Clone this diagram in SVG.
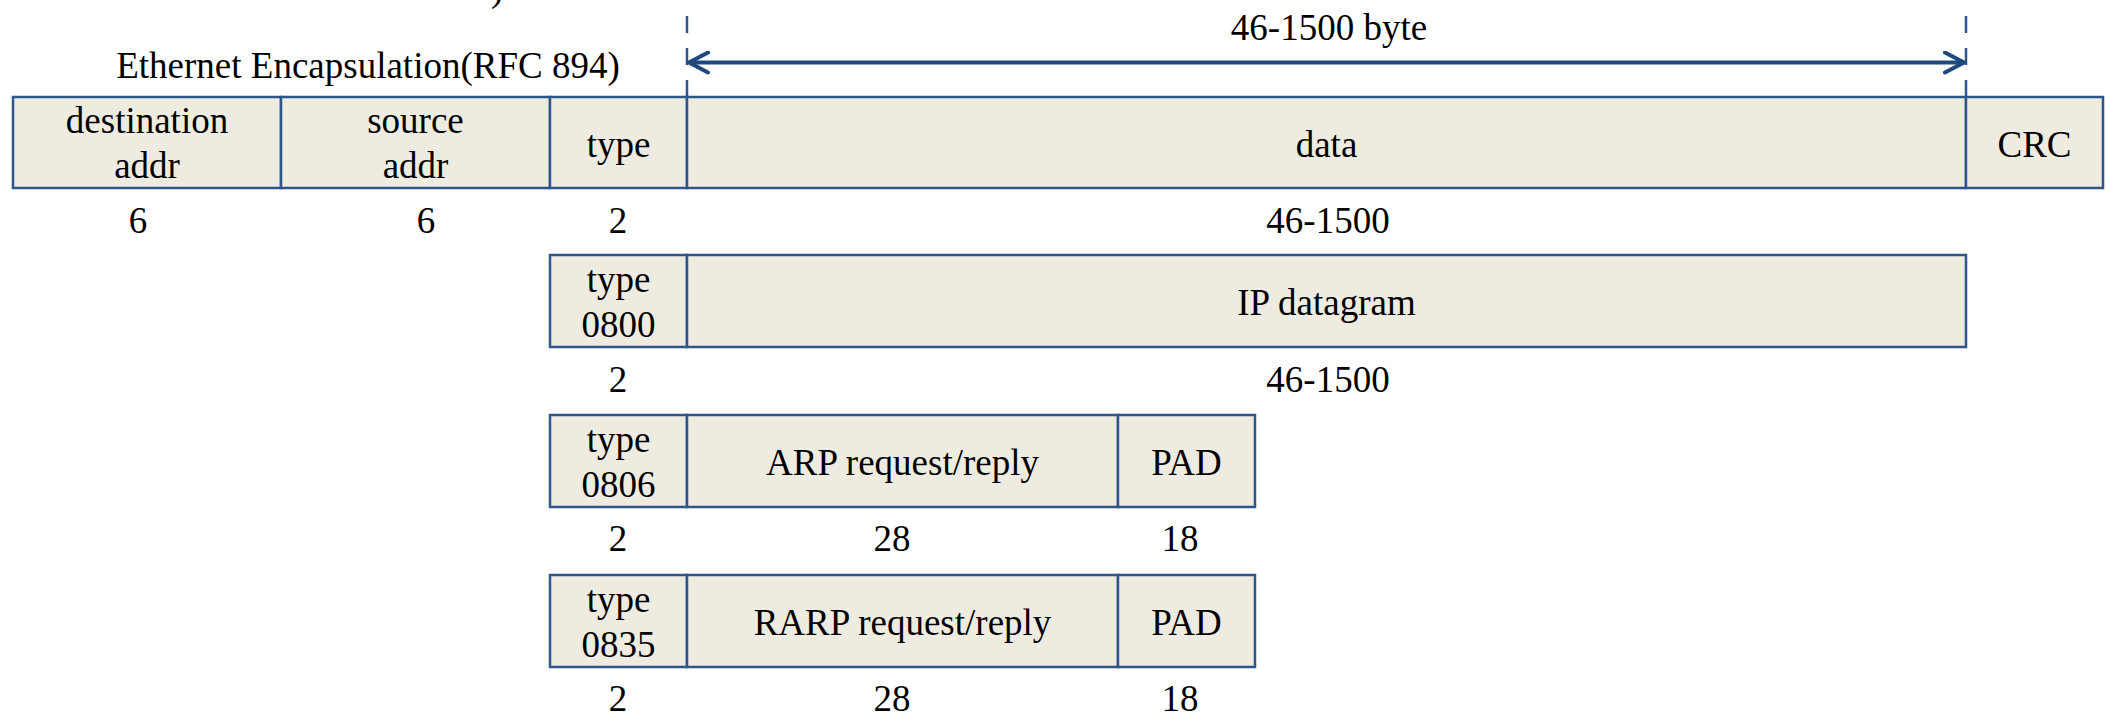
<svg xmlns="http://www.w3.org/2000/svg" width="2107" height="713" viewBox="0 0 2107 713">
<defs>
<style>
.box{fill:#EEECE1;stroke:#2F5689;stroke-width:2.5}
.t{font-family:"Liberation Serif","Times New Roman",serif;font-size:37px;fill:#000;text-anchor:middle}
.dash{stroke:#2F5689;stroke-width:2.5;stroke-dasharray:17 15;fill:none}
.arrow{stroke:#1F497D;stroke-width:4;fill:none}
</style>
<marker id="chev" viewBox="0 0 24 24" refX="22" refY="12" markerWidth="24" markerHeight="24" markerUnits="userSpaceOnUse" orient="auto-start-reverse">
<path d="M3,2 L22,12 L3,22" fill="none" stroke="#1F497D" stroke-width="4" stroke-linecap="round" stroke-linejoin="round"/>
</marker>
</defs>
<rect width="2107" height="713" fill="#fff"/>
<text class="t" x="491" y="1" text-anchor="start" style="text-anchor:start">)</text>
<text class="t" x="368" y="78">Ethernet Encapsulation(RFC 894)</text>
<text class="t" x="1329" y="40">46-1500 byte</text>

<g id="connectors">
<line class="dash" x1="687" y1="16" x2="687" y2="97"/>
<line class="dash" x1="1966" y1="16" x2="1966" y2="97"/>
<line class="arrow" x1="689" y1="62.5" x2="1964" y2="62.5" marker-start="url(#chev)" marker-end="url(#chev)"/>
</g>

<g id="eth-dest"><rect class="box" x="13" y="97" width="268" height="91"/><text class="t" x="147" y="133">destination</text><text class="t" x="147" y="178">addr</text><text class="t" x="138" y="233">6</text></g>
<g id="eth-src"><rect class="box" x="281" y="97" width="269" height="91"/><text class="t" x="415.5" y="133">source</text><text class="t" x="415.5" y="178">addr</text><text class="t" x="426" y="233">6</text></g>
<g id="eth-type"><rect class="box" x="550" y="97" width="137" height="91"/><text class="t" x="618.5" y="157">type</text><text class="t" x="618" y="233">2</text></g>
<g id="eth-data"><rect class="box" x="687" y="97" width="1279" height="91"/><text class="t" x="1326.5" y="157">data</text><text class="t" x="1328" y="233">46-1500</text></g>
<g id="eth-crc"><rect class="box" x="1966" y="97" width="137" height="91"/><text class="t" x="2034.5" y="157">CRC</text></g>

<g id="ip-type"><rect class="box" x="550" y="255" width="137" height="92"/><text class="t" x="618.5" y="292">type</text><text class="t" x="618.5" y="337">0800</text><text class="t" x="618" y="392">2</text></g>
<g id="ip-data"><rect class="box" x="687" y="255" width="1279" height="92"/><text class="t" x="1326.5" y="315">IP datagram</text><text class="t" x="1328" y="392">46-1500</text></g>

<g id="arp-type"><rect class="box" x="550" y="415" width="137" height="92"/><text class="t" x="618.5" y="452">type</text><text class="t" x="618.5" y="497">0806</text><text class="t" x="618" y="551">2</text></g>
<g id="arp-data"><rect class="box" x="687" y="415" width="431" height="92"/><text class="t" x="902.5" y="475">ARP request/reply</text><text class="t" x="892" y="551">28</text></g>
<g id="arp-pad"><rect class="box" x="1118" y="415" width="137" height="92"/><text class="t" x="1186.5" y="475">PAD</text><text class="t" x="1180" y="551">18</text></g>

<g id="rarp-type"><rect class="box" x="550" y="575" width="137" height="92"/><text class="t" x="618.5" y="612">type</text><text class="t" x="618.5" y="657">0835</text><text class="t" x="618" y="711">2</text></g>
<g id="rarp-data"><rect class="box" x="687" y="575" width="431" height="92"/><text class="t" x="902.5" y="635">RARP request/reply</text><text class="t" x="892" y="711">28</text></g>
<g id="rarp-pad"><rect class="box" x="1118" y="575" width="137" height="92"/><text class="t" x="1186.5" y="635">PAD</text><text class="t" x="1180" y="711">18</text></g>
</svg>
